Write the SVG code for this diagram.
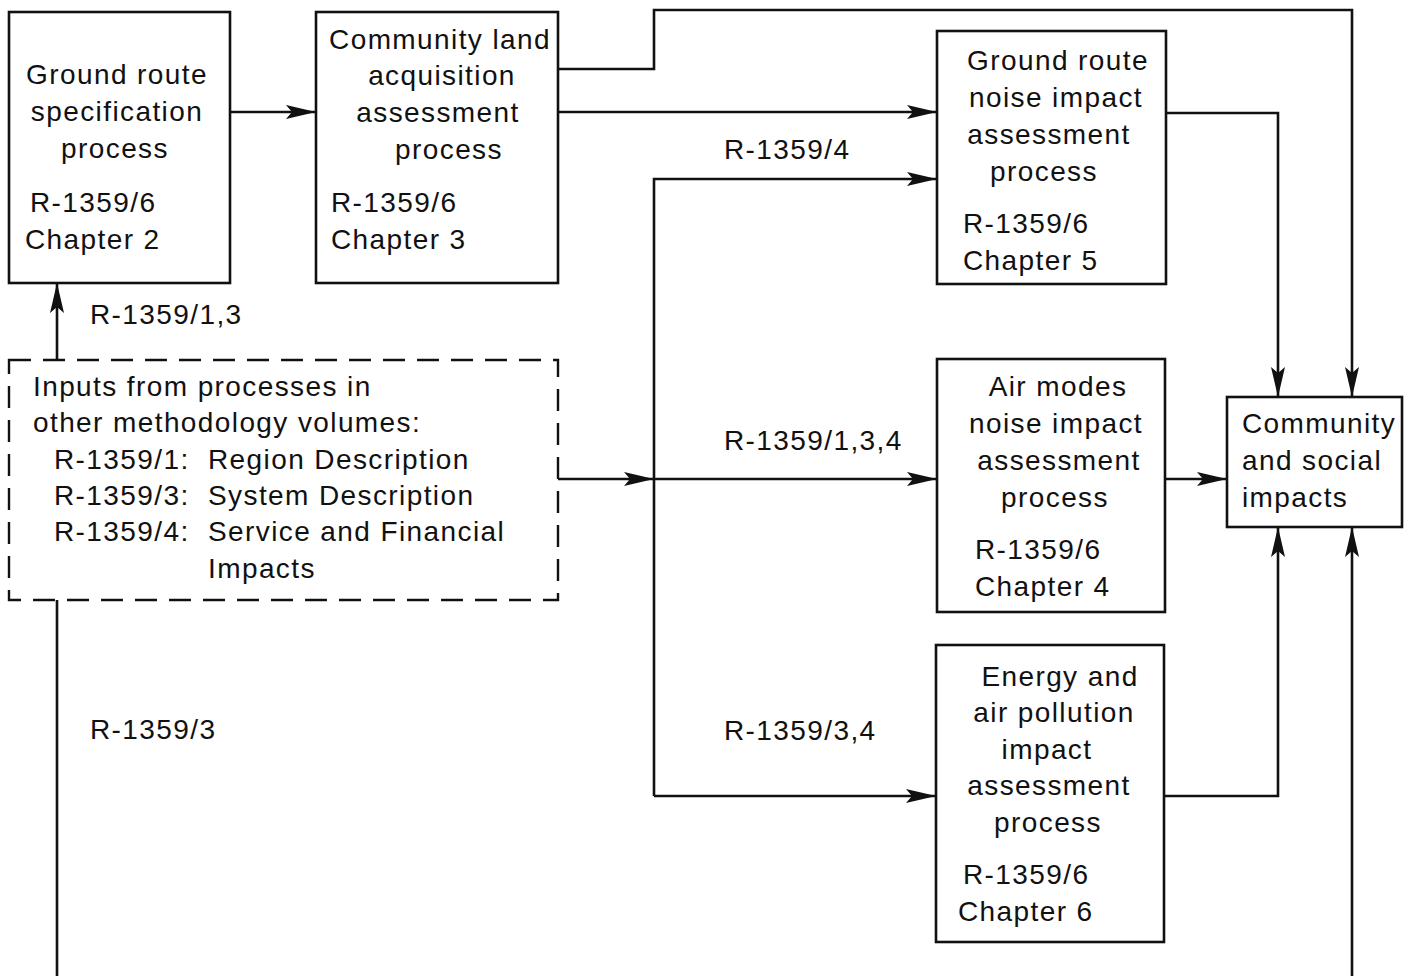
<svg xmlns="http://www.w3.org/2000/svg" width="1411" height="976" viewBox="0 0 1411 976">
  <style>
    .box { fill: #fff; stroke: #111; stroke-width: 2.6; }
    .dash { fill: none; stroke: #111; stroke-width: 2.4; stroke-dasharray: 22 12; }
    .wire { fill: none; stroke: #111; stroke-width: 2.6; }
    text { font-family: "Liberation Sans", Arial, sans-serif; font-size: 28px; fill: #111; letter-spacing: 1.4px; }
    .c { text-anchor: middle; }
  </style>
  <defs>
    <marker id="arrow" markerUnits="userSpaceOnUse" markerWidth="32" markerHeight="16" refX="30" refY="7" orient="auto">
      <path d="M0,0 L30,7 L0,14 L6,7 Z" fill="#111"/>
    </marker>
  </defs>

  <rect width="1411" height="976" fill="#fff"/>

  <!-- connectors -->
  <g id="connectors">
    <line class="wire" x1="230" y1="112" x2="316" y2="112" marker-end="url(#arrow)"/>
    <polyline class="wire" points="558,69 654,69 654,10 1352,10 1352,397" marker-end="url(#arrow)"/>
    <line class="wire" x1="558" y1="112" x2="937" y2="112" marker-end="url(#arrow)"/>
    <polyline class="wire" points="1166,113 1278,113 1278,397" marker-end="url(#arrow)"/>
    <polyline class="wire" points="654,796 654,179 937,179" marker-end="url(#arrow)"/>
    <line class="wire" x1="558" y1="479" x2="654" y2="479" marker-end="url(#arrow)"/>
    <line class="wire" x1="654" y1="479" x2="937" y2="479" marker-end="url(#arrow)"/>
    <line class="wire" x1="654" y1="796" x2="936" y2="796" marker-end="url(#arrow)"/>
    <line class="wire" x1="1165" y1="479" x2="1227" y2="479" marker-end="url(#arrow)"/>
    <polyline class="wire" points="1164,796 1278,796 1278,527" marker-end="url(#arrow)"/>
    <line class="wire" x1="57" y1="360" x2="57" y2="283" marker-end="url(#arrow)"/>
    <line class="wire" x1="57" y1="600" x2="57" y2="976"/>
    <line class="wire" x1="1352" y1="976" x2="1352" y2="527" marker-end="url(#arrow)"/>
    <text x="90" y="324">R-1359/1,3</text>
    <text x="724" y="159">R-1359/4</text>
    <text x="724" y="450">R-1359/1,3,4</text>
    <text x="724" y="740">R-1359/3,4</text>
    <text x="90" y="739">R-1359/3</text>
  </g>

  <g id="ground-route-spec">
    <rect class="box" x="9" y="12" width="221" height="271"/>
    <text class="c" x="117" y="84">Ground route</text>
    <text class="c" x="117" y="121">specification</text>
    <text class="c" x="115" y="158">process</text>
    <text x="30" y="212">R-1359/6</text>
    <text x="25" y="249">Chapter 2</text>
  </g>

  <g id="land-acquisition">
    <rect class="box" x="316" y="12" width="242" height="271"/>
    <text class="c" x="440" y="49">Community land</text>
    <text class="c" x="442" y="85">acquisition</text>
    <text class="c" x="438" y="122">assessment</text>
    <text class="c" x="449" y="159">process</text>
    <text x="331" y="212">R-1359/6</text>
    <text x="331" y="249">Chapter 3</text>
  </g>

  <g id="ground-noise">
    <rect class="box" x="937" y="31" width="229" height="253"/>
    <text class="c" x="1058" y="70">Ground route</text>
    <text class="c" x="1056" y="107">noise impact</text>
    <text class="c" x="1049" y="144">assessment</text>
    <text class="c" x="1044" y="181">process</text>
    <text x="963" y="233">R-1359/6</text>
    <text x="963" y="270">Chapter 5</text>
  </g>

  <g id="other-inputs">
    <rect class="dash" x="9" y="360" width="549" height="240"/>
    <text x="33" y="396">Inputs from processes in</text>
    <text x="33" y="432">other methodology volumes:</text>
    <text x="54" y="469">R-1359/1:</text>
    <text x="208" y="469">Region Description</text>
    <text x="54" y="505">R-1359/3:</text>
    <text x="208" y="505">System Description</text>
    <text x="54" y="541">R-1359/4:</text>
    <text x="208" y="541">Service and Financial</text>
    <text x="208" y="578">Impacts</text>
  </g>

  <g id="air-noise">
    <rect class="box" x="937" y="359" width="228" height="253"/>
    <text class="c" x="1058" y="396">Air modes</text>
    <text class="c" x="1056" y="433">noise impact</text>
    <text class="c" x="1059" y="470">assessment</text>
    <text class="c" x="1055" y="507">process</text>
    <text x="975" y="559">R-1359/6</text>
    <text x="975" y="596">Chapter 4</text>
  </g>

  <g id="community-social">
    <rect class="box" x="1227" y="397" width="175" height="130"/>
    <text x="1242" y="433">Community</text>
    <text x="1242" y="470">and social</text>
    <text x="1242" y="507">impacts</text>
  </g>

  <g id="energy-air">
    <rect class="box" x="936" y="645" width="228" height="297"/>
    <text class="c" x="1060" y="686">Energy and</text>
    <text class="c" x="1054" y="722">air pollution</text>
    <text class="c" x="1047" y="759">impact</text>
    <text class="c" x="1049" y="795">assessment</text>
    <text class="c" x="1048" y="832">process</text>
    <text x="963" y="884">R-1359/6</text>
    <text x="958" y="921">Chapter 6</text>
  </g>
</svg>
